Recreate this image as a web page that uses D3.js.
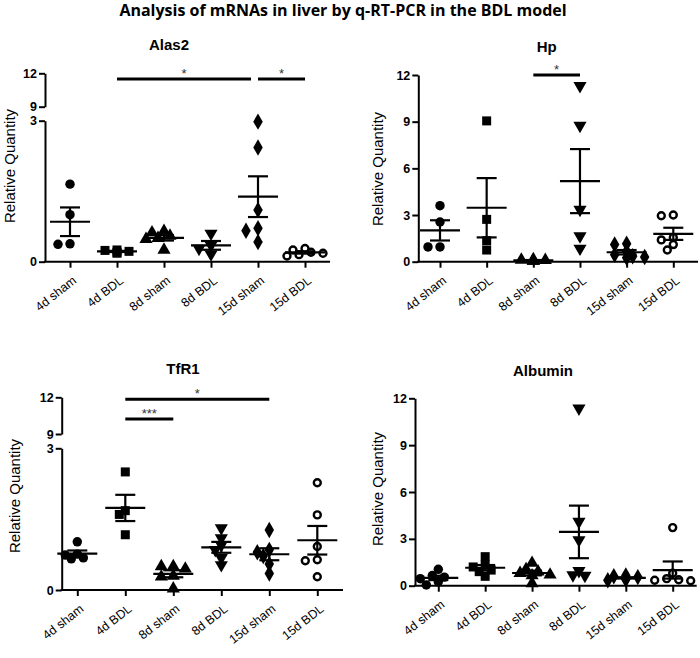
<!DOCTYPE html>
<html><head><meta charset="utf-8">
<script src="https://cdn.jsdelivr.net/npm/d3@7"></script>
<style>body{margin:0;background:#fff}svg{display:block}</style>
</head><body><svg id="c" width="700" height="658"></svg>
<script>
const categories = ["4d sham","4d BDL","8d sham","8d BDL","15d sham","15d BDL"];
const mainTitle = "Analysis of mRNAs in liver by q-RT-PCR in the BDL model";
const yLabel = "Relative Quantity";
const ticksFull = [0,3,6,9,12];
const ticksLow = [0,3];
const ticksHigh = [9,12];

const alas2 = [
  [1.65,1.0,0.37,0.38],
  [0.24,0.2,0.18,0.22,0.25],
  [0.65,0.62,0.55,0.5,0.48,0.25],
  [0.6,0.35,0.28,0.16],
  [2.98,2.43,1.1,0.71,0.66,0.42],
  [0.28,0.25,0.2,0.18,0.15,0.12]
];
const hp = [
  [3.6,2.55,0.95,0.95],
  [9.05,2.72,1.35,0.75],
  [0.15,0.12,0.1,0.08,0.05,0.05],
  [11.3,8.75,3.35,1.65,0.85],
  [1.15,1.1,0.65,0.45,0.35,0.3,0.25],
  [3.0,2.95,1.55,1.4,1.1,0.75]
];
const tfr1 = [
  [1.02,0.76,0.74,0.68,0.66],
  [2.5,1.68,1.6,1.17],
  [0.5,0.5,0.45,0.3,0.28,0.03],
  [1.31,1.1,0.95,0.85,0.68,0.53],
  [1.27,0.85,0.8,0.72,0.55,0.35],
  [2.27,1.59,0.92,0.64,0.62,0.28]
];
const albumin = [
  [1.05,0.65,0.55,0.45,0.25,0.05],
  [1.86,1.33,1.2,1.0,0.9,0.6],
  [1.45,1.05,0.9,0.8,0.7,0.65,0.15],
  [11.36,4.1,2.93,0.95,0.68,0.65],
  [0.65,0.6,0.55,0.5,0.45,0.4,0.35],
  [3.72,0.8,0.45,0.38,0.35,0.32]
];
// significance: [fromCategory, toCategory, label]
const sigAlas2 = [["4d BDL","15d sham","*"],["15d sham","15d BDL","*"]];
const sigHp = [["8d sham","8d BDL","*"]];
const sigTfr1 = [["4d BDL","15d sham","*"],["4d BDL","8d sham","***"]];
const sigAlbumin = [];

const panels = [
  {title:"Alas2", data:alas2, sig:sigAlas2, broken:true,
   ax:45, xr:[70,305], xEnd:330, y0:261.7, y3:120.7, y9:106.7, y12:73.3,
   tx:169, ty:50, lx:15, ly:166, sigY:[79,79], sigSplit:true},
  {title:"Hp", data:hp, sig:sigHp, broken:false,
   ax:418.3, xr:[440,673.3], xEnd:698, y0:261.7, y12:75,
   tx:546.7, ty:52, lx:383, ly:169, sigY:[75]},
  {title:"TfR1", data:tfr1, sig:sigTfr1, broken:true,
   ax:61.7, xr:[77.3,317.3], xEnd:343, y0:590, y3:448.3, y9:434, y12:397.3,
   tx:183, ty:374, lx:20, ly:496, sigY:[399.3,419]},
  {title:"Albumin", data:albumin, sig:sigAlbumin, broken:false,
   ax:415, xr:[438.3,672.7], xEnd:696.7, y0:585.7, y12:398.3,
   tx:543, ty:376, lx:383, ly:489, sigY:[]}
];

const svg = d3.select("#c");
svg.append("text").attr("x",343).attr("y",16).attr("text-anchor","middle")
  .style("font-family","'Open Sans', 'DejaVu Sans', sans-serif").style("font-weight","bold")
  .style("font-size","16px").text(mainTitle);

const symbols = [
  {type:d3.symbolCircle, size:70, fill:"#000", rot:0},
  {type:d3.symbolSquare, size:81, fill:"#000", rot:0},
  {type:d3.symbolTriangle, size:75, fill:"#000", rot:0},
  {type:d3.symbolTriangle, size:75, fill:"#000", rot:180},
  {type:d3.symbolDiamond, size:78, fill:"#000", rot:0},
  {type:d3.symbolCircle, size:38, fill:"#fff", rot:0, stroke:true}
];

panels.forEach(p => {
  const g = svg.append("g");
  const x = d3.scalePoint().domain(categories).range(p.xr);
  let y;
  if (p.broken) {
    y = d3.scaleLinear().domain([0,3,9,12]).range([p.y0,p.y3,p.y9,p.y12]);
  } else {
    y = d3.scaleLinear().domain([0,12]).range([p.y0,p.y12]);
  }
  const fmt = d3.format("d");
  const tickFont = g => g.selectAll("text").style("font-family","'Liberation Sans', Arial, sans-serif")
      .style("font-size","12.5px").style("font-weight","bold").attr("fill","#000");
  const styleAxis = g => { g.selectAll("path,line").attr("stroke","#000").attr("stroke-width",2); };

  if (p.broken) {
    const lo = d3.scaleLinear().domain([0,3]).range([p.y0,p.y3]);
    const hi = d3.scaleLinear().domain([9,12]).range([p.y9,p.y12]);
    [[lo,ticksLow],[hi,ticksHigh]].forEach(([s,t]) => {
      g.append("g").attr("transform",`translate(${p.ax},0)`)
        .call(d3.axisLeft(s).tickValues(t).tickFormat(fmt).tickSize(6).tickSizeOuter(0).tickPadding(2))
        .call(styleAxis).call(tickFont);
    });
  } else {
    g.append("g").attr("transform",`translate(${p.ax},0)`)
      .call(d3.axisLeft(y).tickValues(ticksFull).tickFormat(fmt).tickSize(6).tickSizeOuter(0).tickPadding(2))
      .call(styleAxis).call(tickFont);
  }
  // x axis
  const xa = g.append("g").attr("transform",`translate(0,${p.y0})`)
    .call(d3.axisBottom(x).tickSize(6).tickSizeOuter(0));
  xa.select(".domain").remove();
  xa.append("line").attr("x1",p.ax-1).attr("x2",p.xEnd).attr("y1",0).attr("y2",0);
  xa.call(styleAxis);
  xa.selectAll(".tick text").attr("x",0).attr("y",0).attr("dy","0.35em")
    .attr("transform","translate(4,17) rotate(-38)")
    .style("text-anchor","end")
    .style("font-family","'Liberation Sans', Arial, sans-serif")
    .style("font-size","12.5px").attr("fill","#000");

  // titles
  g.append("text").attr("x",p.tx).attr("y",p.ty).attr("text-anchor","middle")
    .style("font-family","'Liberation Sans', Arial, sans-serif").style("font-weight","bold")
    .style("font-size","15px").text(p.title);
  g.append("text").attr("transform",`translate(${p.lx},${p.ly}) rotate(-90)`)
    .attr("text-anchor","middle")
    .style("font-family","'Liberation Sans', Arial, sans-serif")
    .style("font-size","15px").text(yLabel);

  // points with simple non-overlap jitter
  p.data.forEach((vals, ci) => {
    const cx = x(categories[ci]);
    const sym = symbols[ci];
    const placed = [];
    const sorted = vals.slice().sort((a,b)=>b-a);
    sorted.forEach(v => {
      const py = y(v);
      const offs = [0,-6,6,-12,12,-18,18];
      let ox = 0;
      for (const o of offs) {
        if (placed.every(q => Math.hypot(q[0]-o, q[1]-py) >= 7)) { ox = o; break; }
      }
      placed.push([ox, py]);
      g.append("path").attr("d", d3.symbol().type(sym.type).size(sym.size)())
        .attr("transform",`translate(${cx+ox},${py}) rotate(${sym.rot})`)
        .attr("fill", sym.fill).attr("stroke", sym.stroke ? "#000" : "none")
        .attr("stroke-width", sym.stroke ? 2.4 : 0);
    });
    // mean and SEM
    const m = d3.mean(vals);
    const sem = d3.deviation(vals)/Math.sqrt(vals.length);
    const eg = g.append("g").attr("stroke","#000").attr("stroke-width",2.2);
    eg.append("line").attr("x1",cx-20).attr("x2",cx+20).attr("y1",y(m)).attr("y2",y(m));
    eg.append("line").attr("x1",cx).attr("x2",cx).attr("y1",y(m+sem)).attr("y2",y(Math.max(0,m-sem)));
    eg.append("line").attr("x1",cx-10).attr("x2",cx+10).attr("y1",y(m+sem)).attr("y2",y(m+sem));
    eg.append("line").attr("x1",cx-10).attr("x2",cx+10).attr("y1",y(Math.max(0,m-sem))).attr("y2",y(Math.max(0,m-sem)));
  });

  // significance bars
  p.sig.forEach((s, i) => {
    const sy = p.sigY[i];
    let x1 = x(s[0]), x2 = x(s[1]);
    if (p.sigSplit && i === 0) x2 -= 7;
    g.append("line").attr("x1",x1).attr("x2",x2).attr("y1",sy).attr("y2",sy)
      .attr("stroke","#000").attr("stroke-width",3);
    g.append("text").attr("x",(x1+x2)/2).attr("y",sy-1).attr("text-anchor","middle")
      .style("font-family","'Liberation Sans', Arial, sans-serif").style("font-size","13px")
      .attr("fill","#333").text(s[2]);
  });
});
</script></body></html>
